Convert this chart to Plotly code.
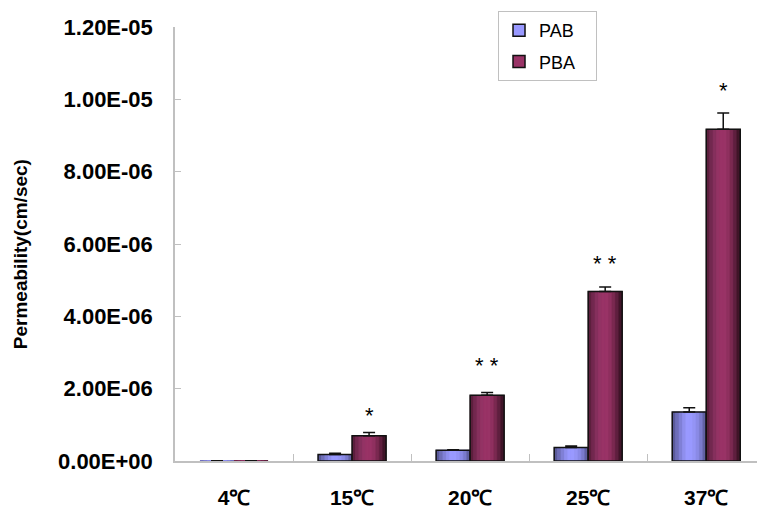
import plotly.graph_objects as go

categories = ["4℃", "15℃", "20℃", "25℃", "37℃"]
pab = [0.005e-6, 0.177e-6, 0.30e-6, 0.37e-6, 1.354e-6]
pab_err = [0.005e-6, 0.04e-6, 0.01e-6, 0.045e-6, 0.12e-6]
pba = [0.005e-6, 0.70e-6, 1.816e-6, 4.69e-6, 9.17e-6]
pba_err = [0.005e-6, 0.085e-6, 0.08e-6, 0.12e-6, 0.45e-6]
star_text = ["", "*", "* *", "* *", "*"]
star_y = [None, 1.26e-6, 2.65e-6, 5.45e-6, 10.25e-6]
ytick_vals = [0, 2e-6, 4e-6, 6e-6, 8e-6, 1e-5, 1.2e-5]
ytick_text = ["0.00E+00", "2.00E-06", "4.00E-06", "6.00E-06", "8.00E-06", "1.00E-05", "1.20E-05"]

FONT = "Liberation Sans, Arial, sans-serif"
BW = 0.288  # bar width in category units (style)
PAD = "\u00a0\u00a0\u00a0"  # legend right padding (style)
OUTLINE_W = [0, 1.5, 1.5, 1.5, 1.5]  # outline widths per bar (style; near-zero bars show no box)

# gradient shading (style)
pab_shade = ["#5a5a99", "#6e6eb8", "#8080d6", "#8f8fee", "#9999ff",
             "#9999ff", "#9494f5", "#8a8ae6", "#7a7acc", "#6161a3"]
pba_shade = ["#5c1f3d", "#72284f", "#85305d", "#933364", "#993366",
             "#993366", "#8f305f", "#7a2950", "#5e1f3e", "#401529"]

fig = go.Figure()

def add_series(name, vals, errs, base_color, shades, offset, group):
    # legend entry only
    fig.add_trace(go.Bar(
        name=name + PAD, x=categories, y=[None] * len(vals), offset=offset, width=BW,
        marker=dict(color=base_color, line=dict(color="#111111", width=1.5)),
        legendgroup=group, showlegend=True, hoverinfo="skip",
    ))
    # solid fill underneath the shading strips
    fig.add_trace(go.Bar(
        x=categories, y=vals, offset=offset, width=BW,
        marker=dict(color=base_color, line=dict(width=0)),
        legendgroup=group, showlegend=False, hoverinfo="skip",
    ))
    n = len(shades)
    for k, col in enumerate(shades):
        fig.add_trace(go.Bar(
            x=categories, y=vals, offset=offset + k * BW / n, width=BW / n,
            marker=dict(color=col, line=dict(color=col, width=0.6)),
            legendgroup=group, showlegend=False, hoverinfo="skip",
        ))
    fig.add_trace(go.Bar(
        name=name, x=categories, y=vals, offset=offset, width=BW,
        marker=dict(color="rgba(0,0,0,0)", line=dict(color="#111111", width=OUTLINE_W)),
        error_y=dict(type="data", array=errs, symmetric=False, arrayminus=[0] * len(errs),
                     color="#111111", thickness=1.5, width=6),
        legendgroup=group, showlegend=False,
    ))

add_series("PAB", pab, pab_err, "#9999FF", pab_shade, -BW, "a")
add_series("PBA", pba, pba_err, "#993366", pba_shade, 0.0, "b")

for c, t, yv in zip(categories, star_text, star_y):
    if t:
        fig.add_annotation(x=c, y=yv, text=t, showarrow=False, xshift=17,
                           yanchor="middle", font=dict(family=FONT, size=22, color="#000000"))

fig.add_annotation(xref="paper", yref="paper", x=-0.265, y=0.476, text="<b>Permeability(cm/sec)</b>",
                   textangle=-90, showarrow=False, xanchor="center", yanchor="middle",
                   font=dict(family=FONT, size=19, color="#000000"))

fig.update_layout(
    width=757, height=510,
    margin=dict(l=175, r=0, t=26.5, b=49.3, autoexpand=False),
    paper_bgcolor="white", plot_bgcolor="white",
    barmode="overlay",
    font=dict(family=FONT, color="#000000"),
    legend=dict(x=0.555, y=1.037, xanchor="left", yanchor="top",
                bordercolor="#c0c0c0", borderwidth=1, bgcolor="white",
                font=dict(family=FONT, size=18), tracegroupgap=5,
                traceorder="grouped", itemwidth=30),
    showlegend=True,
)
fig.update_xaxes(
    type="category", range=[-0.5, 4.43],
    showline=True, linecolor="#c0c0c0", linewidth=1.5,
    ticks="inside", tickson="boundaries", ticklen=7, tickcolor="#c0c0c0", tickwidth=1,
    showgrid=False, ticklabelstandoff=17,
    tickfont=dict(family=FONT, size=21, color="#000000", weight="bold"),
)
fig.update_yaxes(
    range=[0, 1.2e-5], tickvals=ytick_vals, ticktext=ytick_text,
    showline=True, linecolor="#c0c0c0", linewidth=1.5,
    ticks="inside", ticklen=6, tickcolor="#c0c0c0", tickwidth=1,
    showgrid=False, zeroline=False, ticklabelstandoff=16,
    tickfont=dict(family=FONT, size=22, color="#000000", weight="bold"),
)

fig.write_html("out.html", config={"displayModeBar": False},
               post_script="document.body.style.margin='0px';document.body.style.overflow='hidden';")
